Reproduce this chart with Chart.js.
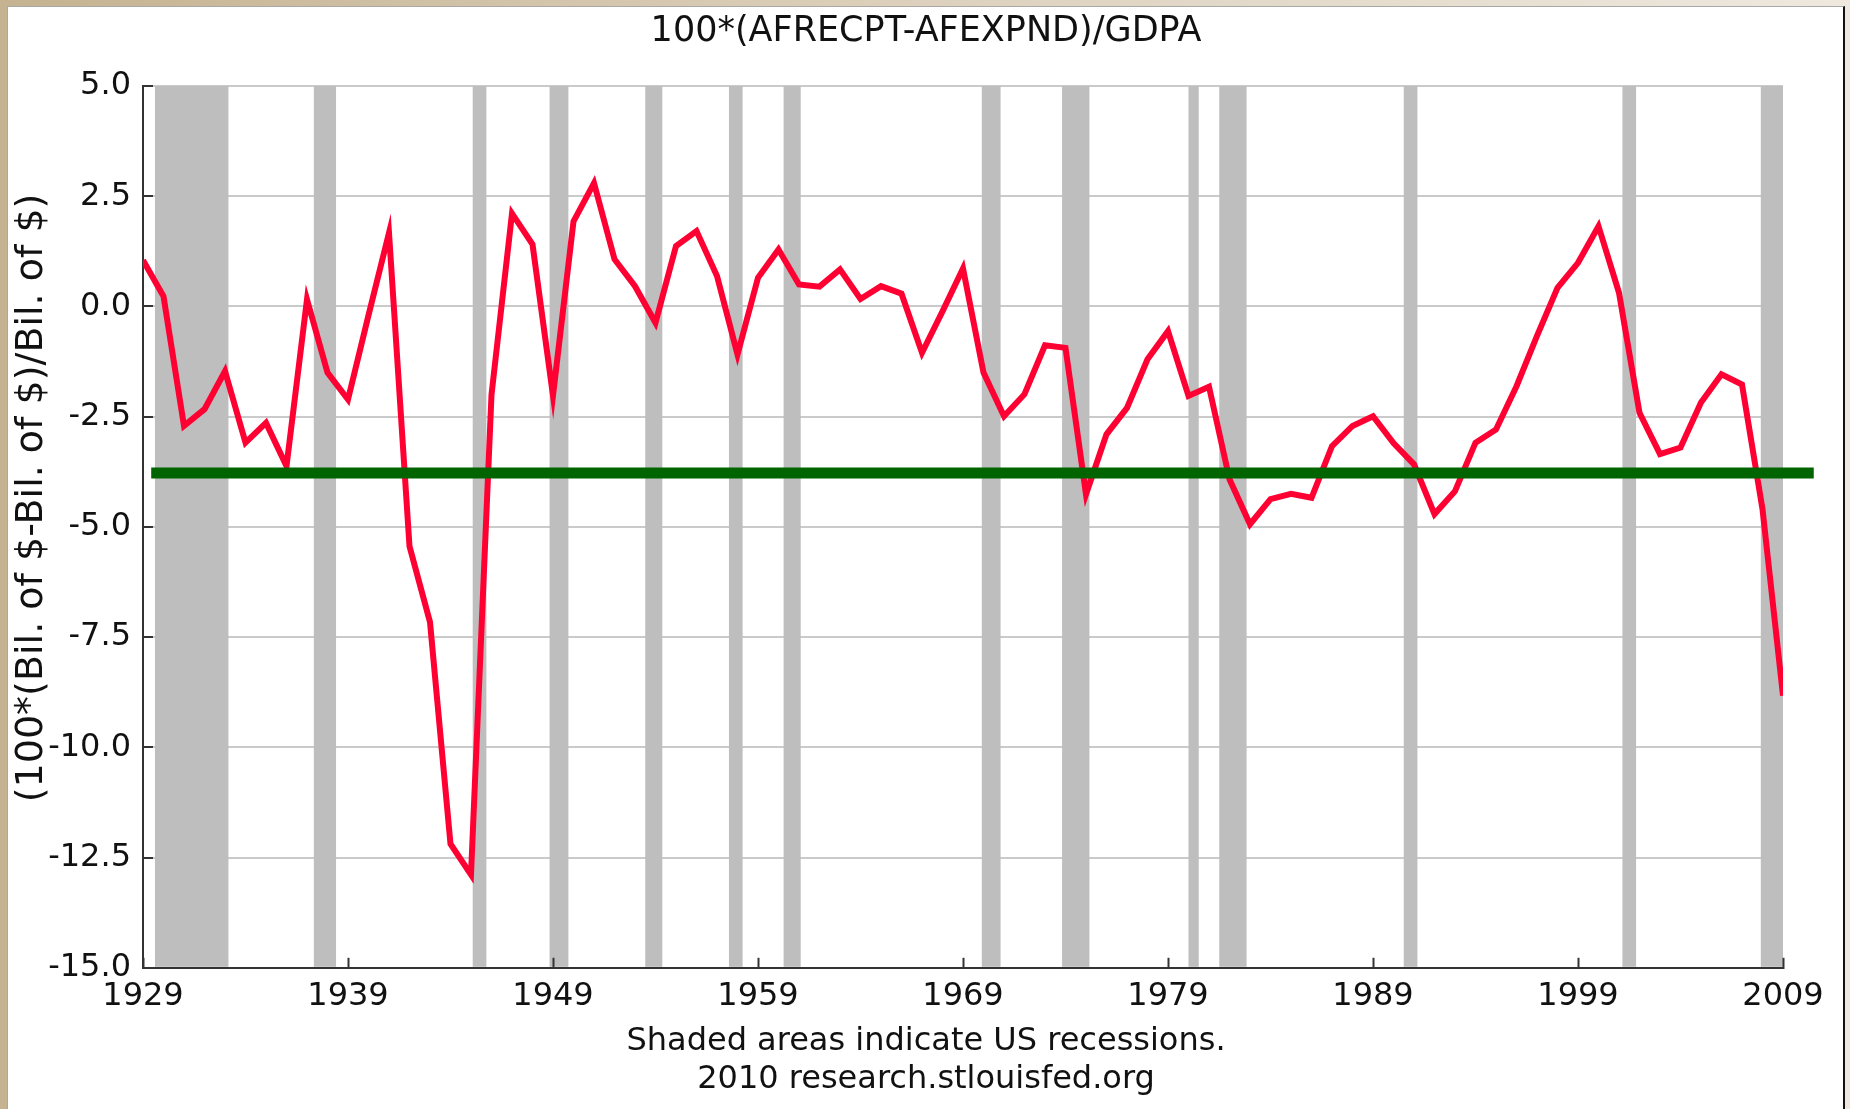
<!DOCTYPE html>
<html>
<head>
<meta charset="utf-8">
<title>100*(AFRECPT-AFEXPND)/GDPA</title>
<script src="https://cdn.jsdelivr.net/npm/chart.js@4.4.1/dist/chart.umd.min.js"></script>
<style>
    html, body { margin: 0; padding: 0; }
    body {
        width: 1850px;
        height: 1109px;
        overflow: hidden;
        position: relative;
        background: linear-gradient(90deg, #c5b290 0%, #ddd1bd 50%, #eee8de 100%);
    }
    #panel {
        position: absolute;
        left: 7px;
        top: 6px;
        width: 1835px;
        height: 1110px;
        background: #fff;
        border-left: 1px solid #a8a8a8;
        border-top: 1px solid #a8a8a8;
        border-right: 2px solid #111;
    }
    #chart { position: absolute; left: 0; top: 0; }
</style>
</head>
<body>
<div id="panel"></div>
<canvas id="chart" width="1850" height="1109"></canvas>
<script>
const years = [
    1929, 1930, 1931, 1932, 1933, 1934, 1935, 1936, 1937, 1938,
    1939, 1940, 1941, 1942, 1943, 1944, 1945, 1946, 1947, 1948,
    1949, 1950, 1951, 1952, 1953, 1954, 1955, 1956, 1957, 1958,
    1959, 1960, 1961, 1962, 1963, 1964, 1965, 1966, 1967, 1968,
    1969, 1970, 1971, 1972, 1973, 1974, 1975, 1976, 1977, 1978,
    1979, 1980, 1981, 1982, 1983, 1984, 1985, 1986, 1987, 1988,
    1989, 1990, 1991, 1992, 1993, 1994, 1995, 1996, 1997, 1998,
    1999, 2000, 2001, 2002, 2003, 2004, 2005, 2006, 2007, 2008,
    2009
];

// 100*(receipts - expenditures)/GDP
const balance = [
    1.05, 0.23, -2.71, -2.33, -1.47, -3.09, -2.64, -3.62, 0.16, -1.50,
    -2.11, -0.20, 1.67, -5.44, -7.16, -12.19, -12.89, -2.00, 2.11, 1.41,
    -2.02, 1.93, 2.80, 1.07, 0.46, -0.37, 1.37, 1.71, 0.69, -1.09,
    0.65, 1.29, 0.50, 0.45, 0.84, 0.17, 0.46, 0.29, -1.05, -0.11,
    0.86, -1.50, -2.49, -1.99, -0.88, -0.94, -4.26, -2.90, -2.30, -1.20,
    -0.56, -2.03, -1.82, -3.92, -4.94, -4.37, -4.25, -4.34, -3.17, -2.71,
    -2.49, -3.10, -3.58, -4.71, -4.19, -3.09, -2.79, -1.81, -0.67, 0.42,
    0.99, 1.82, 0.31, -2.41, -3.35, -3.20, -2.18, -1.54, -1.77, -4.60,
    -8.83
];

// horizontal reference line
const referenceLevel = -3.78;
const referenceFrom = 1929.4;
const referenceTo = 2010.5;

// US recessions (NBER peak / trough, decimal years)
const recessionStarts = [1929.583, 1937.333, 1945.083, 1948.833, 1953.5, 1957.583, 1960.25,
    1969.917, 1973.833, 1980.0, 1981.5, 1990.5, 2001.167, 2007.917];
const recessionEnds = [1933.167, 1938.417, 1945.75, 1949.75, 1954.333, 1958.25, 1961.083,
    1970.833, 1975.167, 1980.5, 1982.833, 1991.167, 2001.833, 2009.417];

const xTicks = [1929, 1939, 1949, 1959, 1969, 1979, 1989, 1999, 2009];
const yTicks = [5.0, 2.5, 0.0, -2.5, -5.0, -7.5, -10.0, -12.5, -15.0];

const chartTitle = '100*(AFRECPT-AFEXPND)/GDPA';
const yAxisTitle = '(100*(Bil. of $-Bil. of $)/Bil. of $)';
const footerLines = ['Shaded areas indicate US recessions.', '2010 research.stlouisfed.org'];

const fontFamily = '"DejaVu Sans", Verdana, sans-serif';
Chart.defaults.font.family = fontFamily;
Chart.defaults.color = '#111';

const recessionBands = {
    id: 'recessionBands',
    beforeDatasetsDraw(chart) {
        const { ctx, chartArea, scales: { x } } = chart;
        ctx.save();
        ctx.fillStyle = '#bebebe';
        recessionStarts.forEach((start, i) => {
            const left = Math.max(x.getPixelForValue(start), chartArea.left);
            const right = Math.min(x.getPixelForValue(recessionEnds[i]), chartArea.right);
            ctx.fillRect(left, chartArea.top, right - left, chartArea.bottom - chartArea.top - 1);
        });
        ctx.restore();
    }
};

// y axis title sits a little above the middle of the plot, so it is drawn here
const yAxisLabel = {
    id: 'yAxisLabel',
    afterDraw(chart) {
        const { ctx, chartArea } = chart;
        ctx.save();
        ctx.translate(32, (chartArea.top + chartArea.bottom) / 2 - 29);
        ctx.rotate(-Math.PI / 2);
        ctx.font = '38px ' + fontFamily;
        ctx.fillStyle = '#111';
        ctx.textAlign = 'center';
        ctx.textBaseline = 'middle';
        ctx.fillText(yAxisTitle, 0, 0);
        ctx.restore();
    }
};

const ctx = document.getElementById('chart').getContext('2d');
const myChart = new Chart(ctx, {
    type: 'line',
    data: {
        datasets: [
            {
                label: 'reference',
                data: [{ x: referenceFrom, y: referenceLevel }, { x: referenceTo, y: referenceLevel }],
                borderColor: '#006400',
                borderWidth: 11,
                borderCapStyle: 'butt',
                pointRadius: 0,
                clip: false,
                order: 0
            },
            {
                label: chartTitle,
                data: years.map((year, i) => ({ x: year, y: balance[i] })),
                borderColor: '#ff0033',
                borderWidth: 6,
                pointRadius: 0,
                tension: 0,
                order: 1
            }
        ]
    },
    options: {
        responsive: false,
        animation: false,
        events: [],
        layout: { padding: { left: 8, right: 6, top: 0, bottom: 10 } },
        plugins: {
            legend: { display: false },
            tooltip: { enabled: false },
            title: {
                display: true,
                text: chartTitle,
                color: '#111',
                font: { size: 35, weight: 'normal' },
                padding: { top: 11, bottom: 33 }
            },
            subtitle: {
                display: true,
                position: 'bottom',
                text: footerLines,
                color: '#111',
                font: { size: 32, weight: 'normal' },
                padding: { top: 4.4, bottom: 0 }
            }
        },
        scales: {
            x: {
                type: 'linear',
                min: 1929,
                max: 2009,
                afterBuildTicks: scale => { scale.ticks = xTicks.map(value => ({ value })); },
                afterFit: scale => { scale.height = 50; },
                grid: {
                    drawOnChartArea: false,
                    tickLength: -10,
                    tickColor: '#333',
                    tickWidth: 2,
                    z: 1
                },
                border: { color: '#333', width: 2, z: 1 },
                ticks: {
                    font: { size: 32 },
                    color: '#111',
                    padding: 20,
                    autoSkip: false,
                    maxRotation: 0,
                    callback: value => String(value)
                }
            },
            y: {
                min: -15,
                max: 5,
                afterBuildTicks: scale => { scale.ticks = yTicks.map(value => ({ value })); },
                afterFit: scale => { scale.width = 135; },
                grid: {
                    color: '#cacaca',
                    lineWidth: 2,
                    tickLength: -10,
                    tickColor: '#333',
                    tickWidth: 2
                },
                border: { color: '#333', width: 2 },
                ticks: {
                    font: { size: 32 },
                    color: '#111',
                    padding: 22,
                    autoSkip: false,
                    callback: value => value.toFixed(1)
                }
            },
            y2: {
                type: 'linear',
                position: 'right',
                grid: { display: false },
                border: { display: false },
                ticks: { display: false },
                afterFit: scale => { scale.width = 61; }
            }
        }
    },
    plugins: [recessionBands, yAxisLabel]
});
</script>
</body>
</html>
